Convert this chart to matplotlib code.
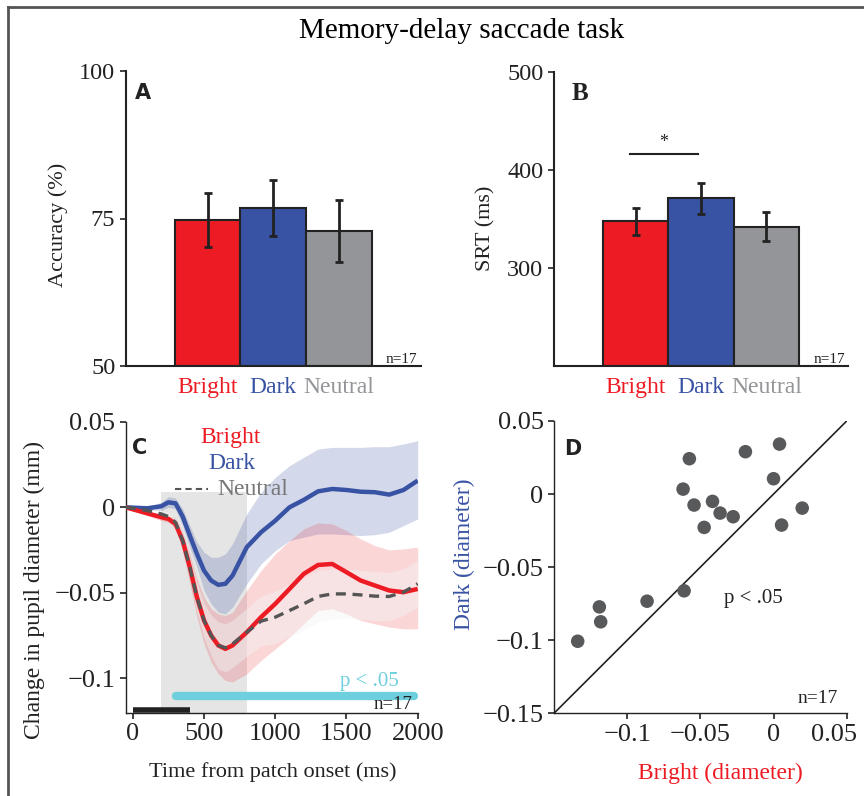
import numpy as np
import matplotlib
matplotlib.use("Agg")
import matplotlib.pyplot as plt
from matplotlib.lines import Line2D
from matplotlib.transforms import ScaledTranslation

plt.rcParams['font.family'] = ['Liberation Serif', 'DejaVu Serif']

# ---- data ----
conditions = ["Bright", "Dark", "Neutral"]
bar_colors = ["#ed1c24", "#3953a4", "#939598"]

accuracy = [74.8, 76.8, 72.9]
accuracy_err = [4.6, 4.7, 5.3]

srt = [347.5, 371.0, 342.0]
srt_err = [13.5, 16.0, 14.7]

time_ms = [-50, 0, 100, 200, 250, 300, 350, 400, 450, 500, 550, 600, 650, 700,
           800, 900, 1000, 1100, 1200, 1300, 1400, 1500, 1600, 1700, 1800, 1900, 2000]

dark_mean = [0, -0.0002, -0.0006, 0.0006, 0.0029, 0.0023, -0.0054, -0.0165, -0.0272,
             -0.0370, -0.0428, -0.0453, -0.0447, -0.0399, -0.0233, -0.0146, -0.0078,
             0.0, 0.0043, 0.0093, 0.0107, 0.0101, 0.0091, 0.0088, 0.0074, 0.0101, 0.0156]
dark_upper = [0.0006, 0.0004, 0.0004, 0.0029, 0.0062, 0.0054, -0.0010, -0.0107, -0.0204,
              -0.0263, -0.0292, -0.0292, -0.0272, -0.0214, -0.0039, 0.0088, 0.0175,
              0.0243, 0.0292, 0.0340, 0.0350, 0.0350, 0.0350, 0.0354, 0.0354, 0.0370, 0.0389]
dark_lower = [-0.0006, -0.0008, -0.0016, -0.0019, 0.0, -0.0010, -0.0107, -0.0233, -0.0350,
              -0.0486, -0.0564, -0.0613, -0.0623, -0.0584, -0.0447, -0.0331, -0.0253,
              -0.0195, -0.0175, -0.0156, -0.0156, -0.0160, -0.0165, -0.0160, -0.0146, -0.0107, -0.0068]

bright_mean = [0, -0.0012, -0.0035, -0.0058, -0.0068, -0.0097, -0.0195, -0.0350, -0.0525,
               -0.0661, -0.0749, -0.0807, -0.0827, -0.0807, -0.0730, -0.0642, -0.0564,
               -0.0477, -0.0389, -0.0337, -0.0331, -0.0379, -0.0428, -0.0457, -0.0486, -0.0496, -0.0477]
bright_upper = [0.0004, -0.0004, -0.0019, -0.0039, -0.0049, -0.0058, -0.0146, -0.0272, -0.0418,
                -0.0525, -0.0593, -0.0623, -0.0632, -0.0613, -0.0486, -0.0370, -0.0272,
                -0.0195, -0.0126, -0.0091, -0.0097, -0.0136, -0.0185, -0.0224, -0.0249, -0.0243, -0.0233]
bright_lower = [-0.0004, -0.0019, -0.0049, -0.0078, -0.0088, -0.0126, -0.0253, -0.0447, -0.0642,
                -0.0798, -0.0905, -0.0973, -0.1012, -0.1021, -0.0973, -0.0895, -0.0827,
                -0.0759, -0.0681, -0.0603, -0.0593, -0.0623, -0.0661, -0.0681, -0.0700, -0.0710, -0.0710]

neutral_mean = [0, -0.0006, -0.0019, -0.0039, -0.0054, -0.0088, -0.0195, -0.0350, -0.0525,
                -0.0661, -0.0749, -0.0807, -0.0821, -0.0798, -0.0730, -0.0665, -0.0642,
                -0.0603, -0.0564, -0.0521, -0.0506, -0.0506, -0.0512, -0.0519, -0.0521, -0.0496, -0.0447]
neutral_upper = [0.0003, 0.0, -0.0008, -0.0020, -0.0030, -0.0060, -0.0150, -0.0290, -0.0440,
                 -0.0560, -0.0630, -0.0670, -0.0680, -0.0660, -0.0590, -0.0520, -0.0490,
                 -0.0450, -0.0410, -0.0370, -0.0360, -0.0360, -0.0370, -0.0375, -0.0380, -0.0360, -0.0310]
neutral_lower = [-0.0003, -0.0012, -0.0030, -0.0058, -0.0078, -0.0116, -0.0240, -0.0410, -0.0610,
                 -0.0762, -0.0868, -0.0944, -0.0962, -0.0936, -0.0870, -0.0810, -0.0794,
                 -0.0756, -0.0718, -0.0672, -0.0652, -0.0652, -0.0654, -0.0663, -0.0662, -0.0632, -0.0584]

patch_window = (200, 800)     # gray shaded period
patch_bar = (0, 400)          # black bar at bottom
sig_window = (300, 1975)      # p < .05 line

bright_diam = [-0.1338, -0.1190, -0.1181, -0.0864, -0.0611, -0.0575, -0.0618, -0.0543, -0.0417,
               -0.0365, -0.0474, -0.0276, -0.0192, 0.0, 0.0041, 0.0055, 0.0196]
dark_diam = [-0.1007, -0.0772, -0.0874, -0.0733, -0.0662, 0.0242, 0.0034, -0.0075, -0.0050,
             -0.0130, -0.0228, -0.0155, 0.0290, 0.0105, 0.0342, -0.0212, -0.0096]

W, H = 864, 796
fig = plt.figure(figsize=(W / 100, H / 100), dpi=100)


def px_axes(left, top, right, bottom):
    return fig.add_axes([left / W, 1 - bottom / H, (right - left) / W, (bottom - top) / H])


# frame around the figure
fig.add_artist(Line2D([8 / W, 1], [1 - 7 / H, 1 - 7 / H], color="#555555", lw=2))
fig.add_artist(Line2D([8 / W, 8 / W], [0, 1 - 7 / H], color="#555555", lw=2))

fig.text(462 / W, 1 - 31 / H, "Memory-delay saccade task", ha="center", va="center", fontsize=21)

INK = "#222222"


def style_axes(ax, fs):
    for s in ["top", "right"]:
        ax.spines[s].set_visible(False)
    for s in ["left", "bottom"]:
        ax.spines[s].set_linewidth(1.5)
        ax.spines[s].set_color(INK)
    ax.tick_params(direction="out", length=4, width=1.2, labelsize=fs, colors=INK)


def bar_panel(ax, vals, errs, ylim, yticks, ylabel, label_xy):
    x = np.arange(1, 4)
    ax.bar(x, np.array(vals) - ylim[0], bottom=ylim[0], width=1.0, color=bar_colors,
           edgecolor=INK, linewidth=1.5, zorder=2)
    ax.errorbar(x, vals, yerr=errs, fmt="none", ecolor=INK, elinewidth=2,
                capsize=3, capthick=2, zorder=3)
    ax.set_xlim(-0.25, 4.25)
    ax.set_ylim(*ylim)
    ax.set_yticks(yticks)
    style_axes(ax, 17.5)
    ax.set_xticks(x)
    ax.set_xticklabels(conditions, fontsize=17)
    ax.tick_params(axis="x", length=0, pad=8)
    for lbl, c in zip(ax.get_xticklabels(), bar_colors):
        lbl.set_color(c)
    ax.set_ylabel(ylabel, fontsize=16, color=INK)
    ax.yaxis.set_label_coords(*label_xy)
    ax.text(4.2, ylim[0], "n=17", ha="right", va="bottom", fontsize=11, color=INK)


# ---- A ----
axA = px_axes(125.7, 71, 420.7, 366)
bar_panel(axA, accuracy, accuracy_err, (50, 100), [50, 75, 100], "Accuracy (%)", (-0.196, 0.478))
axA.text(0.03, 0.96, "A", transform=axA.transAxes, ha="left", va="top",
         fontsize=15, fontweight="bold", family="DejaVu Sans", color=INK)

# ---- B ----
axB = px_axes(553.7, 71.7, 848.3, 366)
bar_panel(axB, srt, srt_err, (200, 500), [300, 400, 500], "SRT (ms)", (-0.199, 0.469))
axB.text(0.06, 0.965, "B", transform=axB.transAxes, ha="left", va="top",
         fontsize=18, fontweight="bold", color=INK)
axB.plot([0.92, 1.95], [416, 416], color=INK, lw=1.5)
axB.text(1.43, 419, "*", ha="center", va="bottom", fontsize=13, color=INK)

# ---- C ----
axC = px_axes(125.7, 421.7, 417.7, 712.7)
axC.axvspan(*patch_window, ymin=0, ymax=(0.009 + 0.12) / 0.17, color="#e3e3e3", alpha=0.9, lw=0, zorder=0)
axC.fill_between(time_ms, dark_lower, dark_upper, color="#3953a4", alpha=0.22, lw=0, zorder=1)
axC.fill_between(time_ms, bright_lower, bright_upper, color="#ed1c24", alpha=0.18, lw=0, zorder=1)
axC.fill_between(time_ms, neutral_lower, neutral_upper, color="#f4f4f4", alpha=0.45, lw=0, zorder=1)
axC.plot(time_ms, dark_mean, color="#3953a4", lw=3.2, zorder=3, solid_capstyle="butt")
axC.plot(time_ms, bright_mean, color="#ed1c24", lw=3.2, zorder=3, solid_capstyle="butt")
axC.plot(time_ms, neutral_mean, color="#555555", lw=2.4, ls=(0, (3, 2)), zorder=4)
axC.plot(patch_bar, [-0.1185, -0.1185], color=INK, lw=4, solid_capstyle="butt", zorder=5)
axC.plot(sig_window, [-0.110, -0.110], color="#6ecfdf", lw=6, solid_capstyle="round", zorder=5)
axC.text(1866, -0.1043, "p < .05", color="#6ecfdf", ha="right", va="baseline", fontsize=15)
axC.text(1965, -0.1180, "n=17", color=INK, ha="right", va="baseline", fontsize=13.5, zorder=6)
axC.set_xlim(-50, 2000)
axC.set_ylim(-0.12, 0.05)
axC.set_xticks([0, 500, 1000, 1500, 2000])
axC.set_yticks([-0.1, -0.05, 0, 0.05])
axC.set_yticklabels(["\u22120.1", "\u22120.05", "0", "0.05"])
style_axes(axC, 19)
axC.spines["left"].set_linewidth(1.0)
axC.spines["bottom"].set_linewidth(1.0)
axC.set_xlabel("Time from patch onset (ms)", fontsize=16, color=INK)
axC.xaxis.set_label_coords(0.503, -0.169)
axC.set_ylabel("Change in pupil diameter (mm)", fontsize=17, color=INK)
axC.yaxis.set_label_coords(-0.276, 0.42)
axC.text(688, 0.0408, "Bright", color="#ed1c24", ha="center", va="center", fontsize=17)
axC.text(693, 0.0256, "Dark", color="#3953a4", ha="center", va="center", fontsize=17)
axC.plot([296, 527], [0.0104, 0.0104], color="#555555", lw=1.5, ls=(0, (3, 2)))
axC.text(597, 0.0102, "Neutral", color="#777777", ha="left", va="center", fontsize=17)
axC.text(-6, 0.0349, "C", color=INK, ha="left", va="center", fontsize=15,
         fontweight="bold", family="DejaVu Sans")

# ---- D ----
axD = px_axes(554, 421, 846.7, 713.3)
axD.plot([-0.15, 0.05], [-0.15, 0.05], color=INK, lw=1.2, zorder=1)
axD.scatter(bright_diam, dark_diam, s=95, color="#58595b", edgecolors="none", zorder=3)
axD.set_xlim(-0.15, 0.05)
axD.set_ylim(-0.15, 0.05)
axD.set_xticks([-0.1, -0.05, 0, 0.05])
axD.set_xticklabels(["\u22120.1", "\u22120.05", "0", "0.05"])
axD.set_yticks([-0.15, -0.1, -0.05, 0, 0.05])
axD.set_yticklabels(["\u22120.15", "\u22120.1", "\u22120.05", "0", "0.05"])
style_axes(axD, 19)
axD.spines["left"].set_linewidth(1.0)
axD.spines["bottom"].set_linewidth(1.0)
last = axD.get_xticklabels()[-1]
last.set_transform(last.get_transform() + ScaledTranslation(-0.13, 0, fig.dpi_scale_trans))
axD.set_xlabel("Bright (diameter)", fontsize=17, color="#ed1c24")
axD.xaxis.set_label_coords(0.567, -0.170)
axD.set_ylabel("Dark (diameter)", fontsize=17, color="#3953a4")
axD.yaxis.set_label_coords(-0.27, 0.545)
axD.text(-0.0137, -0.0712, "p < .05", ha="center", va="center", fontsize=15, color=INK)
axD.text(0.044, -0.146, "n=17", ha="right", va="bottom", fontsize=14, color=INK)
axD.text(-0.143, 0.031, "D", ha="left", va="center", fontsize=15, fontweight="bold",
         family="DejaVu Sans", color=INK)

fig.savefig("out.png", dpi=100)
